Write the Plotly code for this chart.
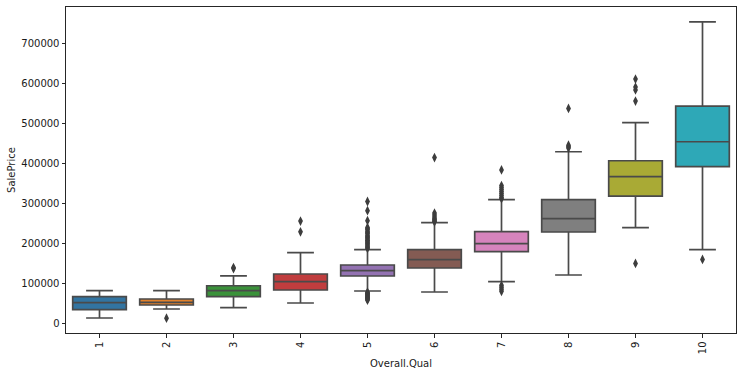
import plotly.graph_objects as go

categories = ["1", "2", "3", "4", "5", "6", "7", "8", "9", "10"]
q1 = [34000, 45800, 66600, 83400, 118400, 138500, 179300, 228600, 318700, 392100]
median = [51600, 52500, 81600, 104200, 131700, 159300, 199300, 261900, 367100, 454700]
q3 = [66600, 60800, 94000, 123400, 146000, 184300, 229400, 309500, 407100, 544100]
lower_whisker = [13300, 35800, 39100, 50800, 80900, 78400, 104200, 120900, 239400, 184300]
upper_whisker = [81600, 81600, 118800, 176800, 184300, 251900, 309500, 429600, 502300, 755100]

outliers = {
    "1": [],
    "2": [12789],
    "3": [139600, 137000],
    "4": [228950, 256000],
    "5": [305000, 282000, 257000, 240000, 237000, 234000, 230000, 227000, 224000,
          220000, 217000, 214000, 211000, 208000, 205000, 202000, 199000, 196000,
          193000, 190000, 187500,
          78000, 76000, 74000, 72000, 70000, 68000, 66000, 64000, 62000, 60000, 58000],
    "6": [415000, 276000, 271000, 266000, 262000, 259000, 256000, 254000],
    "7": [383970, 345000, 340000, 335000, 330000, 325000, 320000, 315000, 312000,
          95000, 90000, 85000, 80000],
    "8": [538000, 446000, 442000, 439000],
    "9": [611657, 591587, 584500, 556581, 150000],
    "10": [160000],
}

colors = ["#3274a1", "#e1812c", "#3a923a", "#c03d3e", "#9372b2",
          "#845b53", "#d684bd", "#7f7f7f", "#a9aa35", "#2ea8b7"]
line_gray = "#4a4a4a"

fig = go.Figure()
for i, c in enumerate(categories):
    fig.add_trace(go.Box(
        x=[c], q1=[q1[i]], median=[median[i]], q3=[q3[i]],
        lowerfence=[lower_whisker[i]], upperfence=[upper_whisker[i]],
        fillcolor=colors[i], line=dict(color=line_gray, width=1.7),
        width=0.8, whiskerwidth=0.5, boxpoints=False, showlegend=False,
        hoverinfo="skip",
    ))
    if outliers[c]:
        fig.add_trace(go.Scatter(
            x=[c] * len(outliers[c]), y=outliers[c], mode="markers",
            marker=dict(symbol="diamond-tall", size=7, color="#3d3d3d",
                        line=dict(width=0)),
            showlegend=False, hoverinfo="skip",
        ))

font = dict(family="DejaVu Sans", size=10, color="#1a1a1a")
fig.update_layout(
    width=742, height=374,
    margin=dict(l=66, r=6, t=7, b=41, autoexpand=False),
    paper_bgcolor="white", plot_bgcolor="white",
    boxmode="overlay", font=font,
)
fig.update_xaxes(
    type="category", categoryorder="array", categoryarray=categories,
    range=[-0.5, 9.5], showgrid=False, zeroline=False,
    showline=True, mirror=True, linecolor="#262626", linewidth=1,
    ticks="outside", ticklen=3.5, tickwidth=1, tickcolor="#262626",
    tickangle=-90, tickfont=font,
    title=dict(text="Overall.Qual", font=font, standoff=6),
)
fig.update_yaxes(
    range=[-24321, 792110], showgrid=False, zeroline=False,
    showline=True, mirror=True, linecolor="#262626", linewidth=1,
    ticks="outside", ticklen=3.5, tickwidth=1, tickcolor="#262626",
    tickvals=[0, 100000, 200000, 300000, 400000, 500000, 600000, 700000],
    ticktext=["0", "100000", "200000", "300000", "400000", "500000", "600000", "700000"],
    tickfont=font,
    title=dict(text="SalePrice", font=font, standoff=3),
)
fig.write_html("out.html", config={"displayModeBar": False},
               post_script="document.body.style.margin='0';")
